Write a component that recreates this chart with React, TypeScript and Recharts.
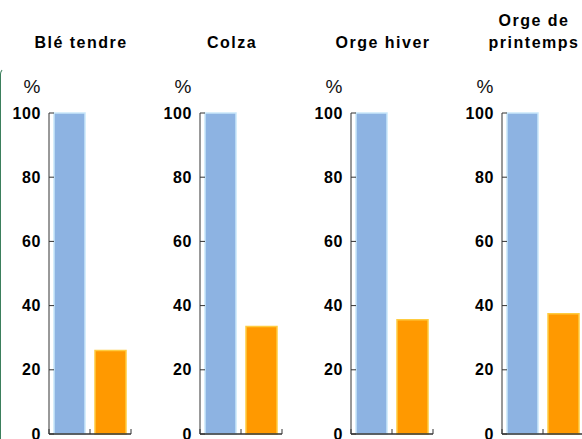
import React from 'react';
import { BarChart, Bar, XAxis, YAxis, Cell } from 'recharts';

const crops = ['Blé tendre', 'Colza', 'Orge hiver', 'Orge de printemps'];
const titleLines = [['Blé tendre'], ['Colza'], ['Orge hiver'], ['Orge de', 'printemps']];
const firstValues = [100, 100, 100, 100];
const secondValues = [26, 33.5, 35.6, 37.5];
const barPositions = [0.5, 1.5];
const yTicks = [0, 20, 40, 60, 80, 100];
const xTicks = [0, 1, 2];

const fills = ['#8DB3E2', '#FF9900'];
const strokes = ['#C9E7FA', '#FFCC40'];
const axisColor = '#333333';
const font = '"Liberation Sans", Arial, sans-serif';

const PANEL_W = 151;
const H = 439;
const TICK_MARGIN = 8;

const YTick = (props: any) => {
  const { x, y, payload } = props;
  return (
    <g>
      <text
        x={x}
        y={y}
        dy={5.5}
        textAnchor="end"
        fontFamily={font}
        fontWeight="bold"
        fontSize={16}
        letterSpacing={0.6}
        fill="#000"
      >
        {payload.value}
      </text>
      <line x1={x + TICK_MARGIN} x2={x + TICK_MARGIN + 5} y1={y} y2={y} stroke={axisColor} strokeWidth={1} />
    </g>
  );
};

const XTick = (props: any) => {
  const { x, y } = props;
  return <line x1={x} x2={x} y1={y} y2={y - 5} stroke={axisColor} strokeWidth={1} />;
};

const Panel: React.FC<{ index: number }> = ({ index }) => {
  const data = barPositions.map((pos, i) => ({
    pos,
    value: i === 0 ? firstValues[index] : secondValues[index],
  }));
  return (
    <div style={{ position: 'absolute', left: index * PANEL_W, top: 0, width: PANEL_W, height: H }}>
      <div
        style={{
          position: 'absolute',
          left: 81 - 70,
          width: 140,
          top: 9.5,
          height: 44,
          display: 'flex',
          flexDirection: 'column',
          justifyContent: 'flex-end',
          textAlign: 'center',
          fontFamily: font,
          fontWeight: 'bold',
          fontSize: 16,
          lineHeight: '22px',
          letterSpacing: 1.5,
          color: '#000',
        }}
      >
        {titleLines[index].map((t) => (
          <div key={t}>{t}</div>
        ))}
      </div>
      <div
        style={{
          position: 'absolute',
          left: 12,
          width: 40,
          top: 77,
          textAlign: 'center',
          fontFamily: font,
          fontSize: 19,
          lineHeight: '19px',
          color: '#111',
        }}
      >
        %
      </div>
      <BarChart
        width={PANEL_W}
        height={H}
        data={data}
        margin={{ top: 113, right: 20, bottom: 0, left: 0 }}
        style={{ position: 'absolute', left: 0, top: 0, overflow: 'visible' }}
      >
        <XAxis
          dataKey="pos"
          type="number"
          domain={[0, 2]}
          ticks={xTicks}
          interval={0}
          height={5}
          tickSize={0}
          tickMargin={0}
          tick={<XTick />}
          axisLine={{ stroke: axisColor, strokeWidth: 1.5 }}
        />
        <YAxis
          domain={[0, 100]}
          ticks={yTicks}
          interval={0}
          width={49}
          tickSize={0}
          tickMargin={TICK_MARGIN}
          tickLine={false}
          tick={<YTick />}
          axisLine={{ stroke: axisColor, strokeWidth: 1 }}
        />
        <Bar dataKey="value" barSize={31} isAnimationActive={false} strokeWidth={1.5}>
          {data.map((d, i) => (
            <Cell key={`${crops[index]}-${i}`} fill={fills[i]} stroke={strokes[i]} />
          ))}
        </Bar>
      </BarChart>
    </div>
  );
};

export default function App() {
  return (
    <div
      style={{
        position: 'absolute',
        left: 0,
        top: 0,
        width: 582,
        height: H,
        overflow: 'hidden',
        background: '#fff',
      }}
    >
      <div
        style={{
          position: 'absolute',
          left: 0,
          top: 68,
          width: 20,
          height: 400,
          borderLeft: '1.5px solid #3B7F5C',
          borderTop: '1.5px solid transparent',
          borderTopLeftRadius: 6,
        }}
      />
      {crops.map((c, i) => (
        <Panel key={c} index={i} />
      ))}
    </div>
  );
}
